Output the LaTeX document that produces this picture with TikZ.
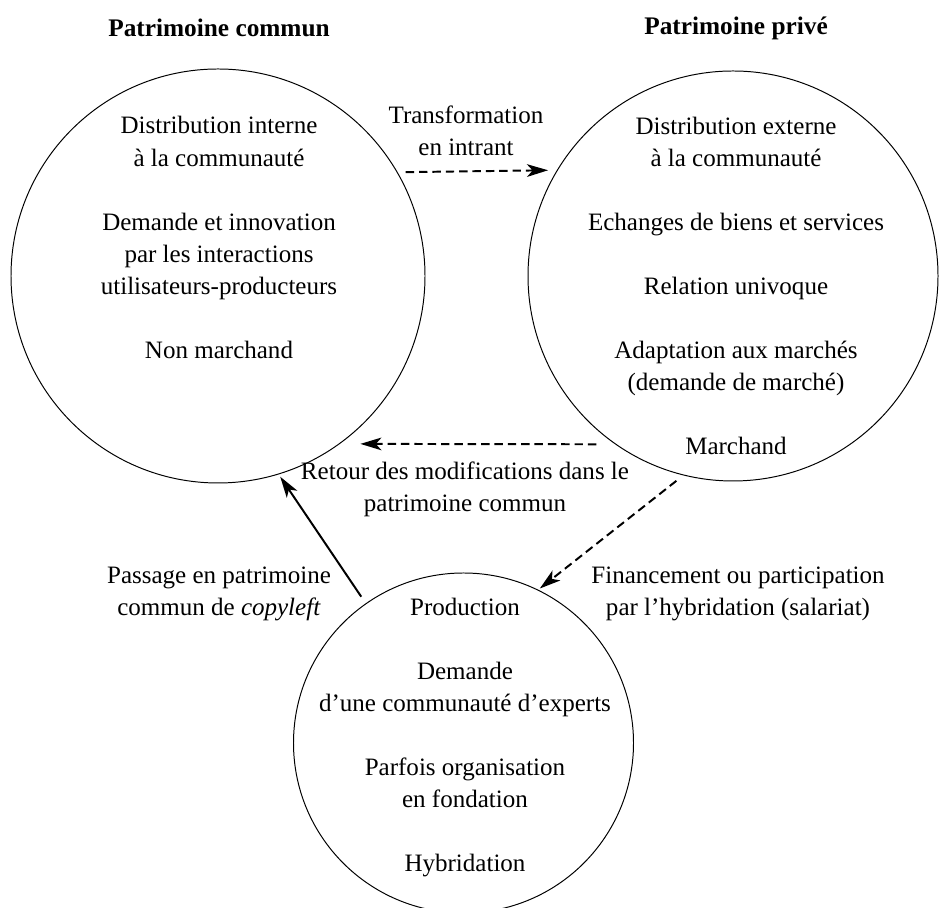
\documentclass[tikz,border=0pt]{standalone}
\usepackage{fontspec}
\setmainfont{Liberation Serif}
\usetikzlibrary{arrows.meta}

\begin{document}
\begin{tikzpicture}[
    patrimoine/.style={shape=circle,draw,line width=0.7pt,inner sep=0pt},
    corps/.style={align=center,font=\fontsize{17.8}{22.8}\selectfont},
    titre/.style={font=\fontsize{18}{22.8}\selectfont\bfseries},
    flux/.style={line width=1.4pt,-{Stealth[length=15pt,width=9pt,inset=4pt]}},
    fluxpointille/.style={flux,dash pattern=on 6pt off 3.5pt}
  ]
    \useasboundingbox (0,0) rectangle (23.475,22.7);
    \node[patrimoine,minimum size=10.35cm] (commun) at (5.45,15.8) {};
    \node[patrimoine,minimum size=10.25cm] (prive) at (18.325,15.8) {};
    \node[patrimoine,minimum size=8.5cm] (production) at (11.5875,4.125) {};
    \node[titre] (titrecommun) at (5.475,22.0) {Patrimoine commun};
    \node[titre] (titreprive) at (18.4,22.0) {Patrimoine privé};
    \node[corps] (textecommun) at (5.475,16.76) {Distribution interne\\ à la communauté\\[22.8pt] Demande et innovation\\ par les interactions\\ utilisateurs-producteurs\\[22.8pt] Non marchand};
    \node[corps] (texteprive) at (18.4,15.55) {Distribution externe\\ à la communauté\\[22.8pt] Echanges de biens et services\\[22.8pt] Relation univoque\\[22.8pt] Adaptation aux marchés\\ (demande de marché)\\[22.8pt] Marchand};
    \node[corps] (texteproduction) at (11.625,4.26) {Production\\[22.8pt] Demande\\ d’une communauté d’experts\\[22.8pt] Parfois organisation\\ en fondation\\[22.8pt] Hybridation};
    \node[corps] (ltransformation) at (11.65,19.42) {Transformation\\ en intrant};
    \node[corps] (lretour) at (11.625,10.47) {Retour des modifications dans le\\ patrimoine commun};
    \node[corps] (lpassage) at (5.475,7.86) {Passage en patrimoine\\ commun de \textit{copyleft}};
    \node[corps] (lfinancement) at (18.45,7.86) {Financement ou participation\\ par l’hybridation (salariat)};
    \draw[fluxpointille,shorten <=0.2cm,shorten >=0.22cm] (commun.30) -- (prive.149.5);
    \draw[fluxpointille,shorten <=0.47cm,shorten >=0.51cm] (prive.235.5) -- (commun.-54.7);
    \draw[flux,shorten <=0.2cm,shorten >=0.07cm] (production.125) -- (commun.-73);
    \draw[fluxpointille,shorten <=0.22cm,shorten >=0.05cm] (prive.-104) -- (production.64);
\end{tikzpicture}
\end{document}
